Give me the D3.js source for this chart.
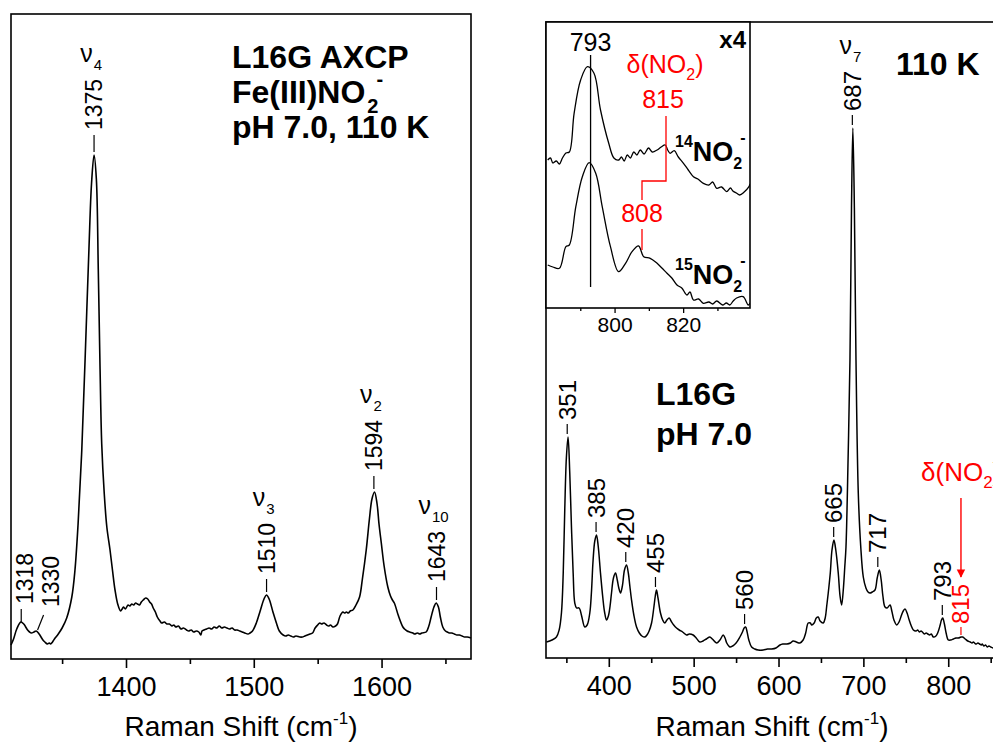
<!DOCTYPE html>
<html><head><meta charset="utf-8">
<script src="https://cdn.jsdelivr.net/npm/d3@7"></script>
<style>
html,body{margin:0;padding:0;background:#fff;}
svg{display:block;}
text{font-family:"Liberation Sans",Arial,sans-serif;}
</style></head>
<body>
<svg id="chart" width="993" height="744"></svg>
<script>
// ---------------- DATA ----------------
// Left panel: high-frequency region (cm-1, relative intensity)
const leftShift = [
  1310,1312,1314.5,1317.7,1320,1321.5,1323,1324.5,1326,1328,
  1329.7,1332,1333.5,1335,1336.5,1338.5,1340,1341,1342.5,1344,
  1347,1350,1353.6,1357.6,1360,1362.5,1365.4,1368,1371,1373,
  1375,1376.8,1378.3,1379.7,1381,1383,1385,1387.5,1389.5,1391.4,
  1393.5,1395.8,1397,1398,1399.5,1401.6,1403,1404.5,1406,1407.5,
  1409,1410.5,1412,1413.5,1415.4,1417,1418.5,1420,1421.3,1423,
  1424.5,1426.6,1428,1430,1432,1434,1436,1437.5,1439,1441,
  1443,1445,1447.4,1449,1451,1453,1455,1457,1458.5,1459.5,
  1461,1463,1465,1467,1469,1471,1473,1475,1477,1479,
  1481,1483,1485,1487,1489,1491,1493,1495.5,1497,1499,
  1502,1505,1508,1509.9,1512,1515,1517.7,1520,1523,1525,
  1527,1529,1531,1533,1536,1538,1540,1542,1544,1546,
  1548,1550,1551.6,1553,1555,1557,1558.5,1560,1562,1564,
  1565.5,1567.5,1569.8,1571,1572.5,1574,1575.5,1577.6,1580,1582.8,
  1585,1588,1590.5,1592.5,1594.5,1596.5,1598,1599.8,1602,1604.9,
  1607,1608.5,1610,1613,1616.7,1618,1620,1622,1624.5,1626,
  1628,1630,1631.5,1634.9,1637,1638.8,1641,1642.7,1644.5,1646,
  1647.9,1650,1651.5,1653,1655,1657,1659,1661,1663,1665,
  1667,1670];
const leftInt = [
  14,20,30,37,35,32,29,27,26,27,
  28,25,22,19,17,15,16,15,17,20,
  25,31,41,62,88,135,209,300,410,475,
  504,480,390,290,215,165,132,109,88,69,
  55,48,50,52,50,54,53,55,54,56,
  55,54,57,59,61,60,57,55,51,47,
  42,38,36,37,35,35,33,34,32,33,
  30,31,29,28,29,27,28,27,24,28,
  29,30,31,30,32,31,33,31,32,31,
  30,31,29,29,28,27,26,25,26,28,
  36,48,60,64,60,47,36,28,24,23,
  24,23,22,23,22,22,23,24,25,26,
  31,34,36,35,36,34,33,34,32,33,
  35,43,47,46,47,46,48,49,54,62,
  80,109,140,160,167,155,135,116,93,72,
  63,59,56,44,32,30,28,27,26,25,
  26,25,26,27,33,42,52,56,52,42,
  32,28,27,26,26,25,24,24,23,22,
  22,21];

// Right panel: low-frequency region
const rightShift = [326.5,333,338.3,341.5,344.2,346.3,348.1,350,352,354,356,358,359.9,362,365,368,371.7,374.5,377.6,379.5,381.5,383.5,385.5,387.5,390.2,393,395,397.3,399.5,401.5,403.2,405.5,407.9,410,411.8,413.8,416,418.5,420.9,423,424.8,426.8,429.5,432.7,436,439,442.5,445,447.5,450.4,453,454.8,456.2,458,460.9,463.5,466,468.5,471.1,474,476.5,479.8,483,487,491.6,495,499.4,503,507.3,511,515,519.1,522,527,531,534.8,537,539,542.7,546,550,554.5,557.5,559.5,561.2,563,565,568.3,572,576,582,587,592,597,601.7,605,610,614,617.3,621,625.2,629,632,635,637.5,639,642,644.5,646.8,649,652.7,655,656.8,658.6,661,663,665.3,667.5,670.4,672.5,674.4,676.5,678,679.5,682,684.2,686,687.6,689.4,691.3,694,697,699.9,703,705.5,707.8,710.5,713.7,716.3,718.8,721,723,725.5,728,731.4,733.5,736,739.3,742,745,747,749.1,751.5,754,756.5,758.9,762,764,766,768,770.6,772,774,776,778,780,782.4,785.5,788,790.5,792,793.5,795.5,797.5,800.1,803,806,809,812,815,817.1,820,823,826,828,829.6,831,833,835,837,839,840,842,844,846,848,850,852.8,856,861];
const rightInt = [16,18,21,28,45,85,148,200,221,185,131,85,55,50,50,42,31,33,45,65,98,117,123,112,85,60,46,38,42,52,65,80,85,78,70,65,72,88,93,85,72,58,43,31,25,22,21,23,27,35,50,62,68,60,45,38,35,38,40,36,33,30,28,26,23,24,23,20,16,17,19,21,19,15,18,23,20,15,11,12,15,21,26,30,31,26,18,11,9,8,8,9,9,10,13,14,14,15,17,16,15,18,25,35,35,33,35,40,41,37,35,40,52,65,85,108,118,108,85,62,53,70,90,111,200,298,450,530,450,298,165,110,81,70,66,65,66,68,80,88,78,62,51,50,53,47,38,33,36,43,47,49,45,38,32,28,27,28,26,27,25,24,25,24,23,24,21,22,26,33,38,40,34,25,18,18,19,20,20,21,21,19,17,16,15,16,15,14,15,14,13,14,12,13,11,12,11,10,10,9];

// Inset (x4): 14NO2- and 15NO2- traces
const insetShift14 = [780.5,781.3,782,783,783.9,784.8,785.8,786.8,788.2,790.1,792.1,794,795.9,798.3,799.8,801.2,802,802.8,803.7,804.6,805.6,806.5,807.5,808.6,809.9,811,812.4,813.6,814.8,815.5,816.2,817.4,818.6,820.1,821.5,823,824.3,825.9,827.5,828.6,829.8,831.2,832.7,833.8,834.5,835.5,836.5,837.8,839.2,839.5];
const insetInt14   = [148,150,145,147,144,150,155,156,194.7,228,241.3,234.7,198,164.7,150,148,151,147,153,150,156,153,158,154,160,156,158,161,163,158,154.7,157.3,151,144.7,138,131.3,129,124.7,123,126,119.7,121,116.3,120,117,115,113,116,121.3,124];
const insetShift15 = [780.5,782,783.9,785.8,786.8,788.7,790.6,792.6,794.5,796.4,798.8,801.2,803.2,805.1,807,808.5,810.4,812.4,813.8,815.3,816.7,818.2,819.6,821.1,822,823,824.5,825.9,827.5,828.6,829.8,831.5,832.6,833.6,834.6,835.6,837.5,839,839.5];
const insetInt15   = [43,41,39.7,61.3,63,101.3,131.3,145.3,134.7,101.3,61.3,36.3,44.7,56.3,62,51.3,49.7,44.7,40,34.7,30,23,20,13,16,8,9,4.7,6,4,7,3,5,3,7,10,11.3,3,5];

// Axis ticks
const leftTicks = [1400,1500,1600];
const leftMinor = [1350,1450,1550,1650];
const rightTicks = [400,500,600,700,800];
const rightMinor = [350,450,550,650,750,850];
const insetTicks = [800,820];
const insetMinor = [790,810,830];

// Peak annotations
const leftPeaks = [1318,1330,1375,1510,1594,1643];
const leftModes = ["","","4","3","2","10"];
const rightPeaks = [351,385,420,455,560,665,687,717,793];
const rightModes = ["","","","","","","7","",""];

// ---------------- DRAW ----------------
const svg = d3.select("#chart");
const SANS = '"Liberation Sans", Arial, sans-serif';
const SERIF = '"Liberation Serif", "Times New Roman", serif';

function interp(xs, ys, x){
  for(let i=1;i<xs.length;i++){ if(xs[i]>=x){ const t=(x-xs[i-1])/(xs[i]-xs[i-1]); return ys[i-1]+t*(ys[i]-ys[i-1]); } }
  return ys[ys.length-1];
}
function peakMax(xs, ys, x){
  let best=-Infinity; xs.forEach((v,i)=>{ if(Math.abs(v-x)<=2.5 && ys[i]>best) best=ys[i]; });
  return best>-Infinity?best:interp(xs,ys,x);
}

// ---- Left panel
const L = {x0:11, x1:471, y0:14, y1:659};
const xL = d3.scaleLinear().domain([1310,1670]).range([L.x0,L.x1]);
const yL = d3.scaleLinear().domain([0,645]).range([L.y1,L.y0]);

const gL = svg.append("g");
gL.append("rect").attr("x",L.x0).attr("y",L.y0).attr("width",L.x1-L.x0).attr("height",L.y1-L.y0)
  .attr("fill","none").attr("stroke","#000").attr("stroke-width",1.6);
const lineL = d3.line().x(d=>xL(d[0])).y(d=>yL(d[1])).curve(d3.curveCatmullRom.alpha(0.5));
gL.append("path").datum(leftShift.map((v,i)=>[v,leftInt[i]])).attr("d",lineL)
  .attr("fill","none").attr("stroke","#000").attr("stroke-width",1.6);

const axL = gL.append("g").attr("transform",`translate(0,${L.y1})`)
  .call(d3.axisBottom(xL).tickValues(leftTicks).tickSize(9).tickPadding(9).tickFormat(d3.format("d")));
axL.select(".domain").remove();
axL.selectAll("line").attr("stroke-width",1.6);
axL.selectAll("text").attr("font-size",27).attr("font-family",SANS).attr("fill","#000");
gL.append("g").attr("transform",`translate(0,${L.y1})`)
  .call(d3.axisBottom(xL).tickValues(leftMinor).tickSize(5).tickFormat(""))
  .call(g=>{g.select(".domain").remove(); g.selectAll("line").attr("stroke-width",1.6);});

function xTitle(g, cx, y){
  const t = g.append("text").attr("x",cx).attr("y",y).attr("text-anchor","middle")
    .attr("font-size",28).attr("font-family",SANS).attr("fill","#000");
  t.append("tspan").text("Raman Shift (cm");
  t.append("tspan").attr("dy",-12).attr("font-size",17).text("-1");
  t.append("tspan").attr("dy",12).text(")");
}
xTitle(gL, 241, 736);

function peakLabel(g, x, ybot, txt, color, size){
  g.append("text").attr("transform",`translate(${x},${ybot}) rotate(-90)`)
    .attr("text-anchor","start").attr("dominant-baseline","central")
    .attr("font-size",size).attr("fill",color).text(txt);
}
function nuLabel(g, x, y, sub){
  const t = g.append("text").attr("x",x).attr("y",y).attr("text-anchor","middle")
    .attr("font-family",SERIF).attr("font-size",25).attr("fill","#000");
  t.append("tspan").text("\u03BD");
  t.append("tspan").attr("dy",8).attr("dx",1).attr("font-size",15).text(sub);
}
leftPeaks.forEach((p,i)=>{
  const x = xL(p);
  const py = yL(peakMax(leftShift,leftInt,p));
  if(p===1330){
    gL.append("line").attr("x1",x+1).attr("y1",py-1).attr("x2",x+7).attr("y2",py-16)
      .attr("stroke","#000").attr("stroke-width",1.2);
    peakLabel(gL, x+14, py-24, String(p), "#000", 23);
    return;
  }
  const gap = p===1318?0:3, len = p===1375?17:13;
  gL.append("line").attr("x1",x).attr("x2",x).attr("y1",py-gap).attr("y2",py-gap-len)
    .attr("stroke","#000").attr("stroke-width",1.2);
  const lx = p===1318 ? x+4 : x;
  const ybot = py-gap-len-5;
  peakLabel(gL, lx, ybot, String(p), "#000", 23);
  if(leftModes[i]) nuLabel(gL, x-3, ybot-51-17, leftModes[i]);
});

// left titles
const titleL = gL.append("g").attr("font-family",SANS).attr("font-weight","bold").attr("font-size",32).attr("fill","#000");
titleL.append("text").attr("x",232).attr("y",68).text("L16G AXCP");
const fe = titleL.append("text").attr("x",232).attr("y",103);
fe.append("tspan").text("Fe(III)NO");
fe.append("tspan").attr("font-size",20).attr("dy",10).attr("dx",2).text("2");
fe.append("tspan").attr("font-size",20).attr("dx",-2).attr("dy",-27).text("-");
titleL.append("text").attr("x",232).attr("y",138).text("pH 7.0, 110 K");

// ---- Right panel
const R = {x0:546, x1:1000, y0:22, y1:658};
const xR = d3.scaleLinear().domain([326,861]).range([R.x0,R.x1]);
const yR = d3.scaleLinear().domain([0,636]).range([R.y1,R.y0]);
const gR = svg.append("g");
gR.append("rect").attr("x",R.x0).attr("y",R.y0).attr("width",R.x1-R.x0).attr("height",R.y1-R.y0)
  .attr("fill","none").attr("stroke","#000").attr("stroke-width",1.6);
const lineR = d3.line().x(d=>xR(d[0])).y(d=>yR(d[1])).curve(d3.curveCatmullRom.alpha(0.5));
gR.append("path").datum(rightShift.map((v,i)=>[v,rightInt[i]])).attr("d",lineR)
  .attr("fill","none").attr("stroke","#000").attr("stroke-width",1.5);
const axR = gR.append("g").attr("transform",`translate(0,${R.y1})`)
  .call(d3.axisBottom(xR).tickValues(rightTicks).tickSize(9).tickPadding(9).tickFormat(d3.format("d")));
axR.select(".domain").remove();
axR.selectAll("line").attr("stroke-width",1.6);
axR.selectAll("text").attr("font-size",27).attr("font-family",SANS).attr("fill","#000");
gR.append("g").attr("transform",`translate(0,${R.y1})`)
  .call(d3.axisBottom(xR).tickValues(rightMinor).tickSize(5).tickFormat(""))
  .call(g=>{g.select(".domain").remove(); g.selectAll("line").attr("stroke-width",1.6);});
xTitle(gR, 772, 736);

rightPeaks.forEach((p,i)=>{
  const x = xR(p);
  const py = yR(peakMax(rightShift,rightInt,p));
  gR.append("line").attr("x1",x).attr("x2",x).attr("y1",py-3).attr("y2",py-13)
    .attr("stroke","#000").attr("stroke-width",1.2);
  const ybot = py-17;
  peakLabel(gR, x, ybot, String(p), "#000", 24);
  if(rightModes[i]) nuLabel(gR, x-2, ybot-40-17, rightModes[i]);
});
// red 815 label in main panel
{
  const x = xR(815), py = yR(interp(rightShift,rightInt,815));
  gR.append("line").attr("x1",x).attr("x2",x).attr("y1",py-2).attr("y2",py-10)
    .attr("stroke","red").attr("stroke-width",1.2);
  peakLabel(gR, x, py-13, "815", "red", 24);
  gR.append("defs").append("marker").attr("id","arr").attr("viewBox","0 0 10 10")
    .attr("refX",9).attr("refY",5).attr("markerWidth",6).attr("markerHeight",9).attr("orient","auto")
    .append("path").attr("d","M0,0 L10,5 L0,10 Z").attr("fill","red");
  gR.append("line").attr("x1",x).attr("x2",x).attr("y1",498).attr("y2",577)
    .attr("stroke","red").attr("stroke-width",1.4).attr("marker-end","url(#arr)");
  const d = gR.append("text").attr("x",921).attr("y",481).attr("font-size",26).attr("fill","red");
  d.append("tspan").text("\u03B4(NO");
  d.append("tspan").attr("font-size",17).attr("dy",7).text("2");
  d.append("tspan").attr("dy",-7).text(")");
}
const titleR = gR.append("g").attr("font-family",SANS).attr("font-weight","bold").attr("font-size",32).attr("fill","#000");
titleR.append("text").attr("x",896).attr("y",75).text("110 K");
titleR.append("text").attr("x",656).attr("y",405).text("L16G");
titleR.append("text").attr("x",656).attr("y",445).text("pH 7.0");

// ---- Inset
const I = {x0:546, x1:750, y0:22, y1:308};
const xI = d3.scaleLinear().domain([780,839.5]).range([I.x0,I.x1]);
const yI = d3.scaleLinear().domain([0,286]).range([I.y1,I.y0]);
const gI = svg.append("g");
gI.append("rect").attr("x",I.x0).attr("y",I.y0).attr("width",I.x1-I.x0).attr("height",I.y1-I.y0)
  .attr("fill","#fff").attr("stroke","#000").attr("stroke-width",1.6);
svg.append("clipPath").attr("id","ic").append("rect")
  .attr("x",I.x0).attr("y",I.y0).attr("width",I.x1-I.x0).attr("height",I.y1-I.y0);
const lineI = d3.line().x(d=>xI(d[0])).y(d=>yI(d[1])).curve(d3.curveCatmullRom.alpha(0.5));
gI.append("path").datum(insetShift14.map((v,i)=>[v,insetInt14[i]])).attr("d",lineI)
  .attr("clip-path","url(#ic)").attr("fill","none").attr("stroke","#000").attr("stroke-width",1.3);
gI.append("path").datum(insetShift15.map((v,i)=>[v,insetInt15[i]])).attr("d",lineI)
  .attr("clip-path","url(#ic)").attr("fill","none").attr("stroke","#000").attr("stroke-width",1.3);
const axI = gI.append("g").attr("transform",`translate(0,${I.y1})`)
  .call(d3.axisBottom(xI).tickValues(insetTicks).tickSize(5).tickPadding(4).tickFormat(d3.format("d")));
axI.select(".domain").remove();
axI.selectAll("line").attr("stroke-width",1.3);
axI.selectAll("text").attr("font-size",21).attr("font-family",SANS).attr("fill","#000");
gI.append("g").attr("transform",`translate(0,${I.y1})`)
  .call(d3.axisBottom(xI).tickValues(insetMinor).tickSize(3).tickFormat(""))
  .call(g=>{g.select(".domain").remove(); g.selectAll("line").attr("stroke-width",1.3);});

gI.append("line").attr("x1",xI(793)).attr("x2",xI(793)).attr("y1",55).attr("y2",287)
  .attr("stroke","#000").attr("stroke-width",1.3);
gI.append("text").attr("x",xI(793)).attr("y",51).attr("text-anchor","middle").attr("font-size",25).text("793");
gI.append("text").attr("x",746).attr("y",48).attr("text-anchor","end").attr("font-size",24).attr("font-weight","bold").text("x4");
{
  const d = gI.append("text").attr("x",665).attr("y",73).attr("text-anchor","middle").attr("font-size",25).attr("fill","red");
  d.append("tspan").text("\u03B4(NO");
  d.append("tspan").attr("font-size",16).attr("dy",7).text("2");
  d.append("tspan").attr("dy",-7).text(")");
  gI.append("text").attr("x",xI(815)-3).attr("y",108).attr("text-anchor","middle").attr("font-size",25).attr("fill","red").text("815");
  gI.append("path").attr("d",`M${xI(815)},116 V181 H${xI(808)} V200`).attr("fill","none").attr("stroke","red").attr("stroke-width",1.3);
  gI.append("text").attr("x",xI(808)).attr("y",222).attr("text-anchor","middle").attr("font-size",25).attr("fill","red").text("808");
  gI.append("line").attr("x1",xI(808)).attr("x2",xI(808)).attr("y1",229).attr("y2",250).attr("stroke","red").attr("stroke-width",1.3);
}
function isoLabel(g, x, y, iso){
  const t = g.append("text").attr("x",x).attr("y",y).attr("font-weight","bold").attr("font-size",27).attr("fill","#000");
  t.append("tspan").attr("font-size",16).attr("dy",-14).text(iso);
  t.append("tspan").attr("dy",14).text("NO");
  t.append("tspan").attr("font-size",16).attr("dy",8).text("2");
  t.append("tspan").attr("font-size",16).attr("dx",-2).attr("dy",-26).text("-");
}
isoLabel(gI, 675, 161, "14");
isoLabel(gI, 675, 284, "15");
</script>
</body></html>
